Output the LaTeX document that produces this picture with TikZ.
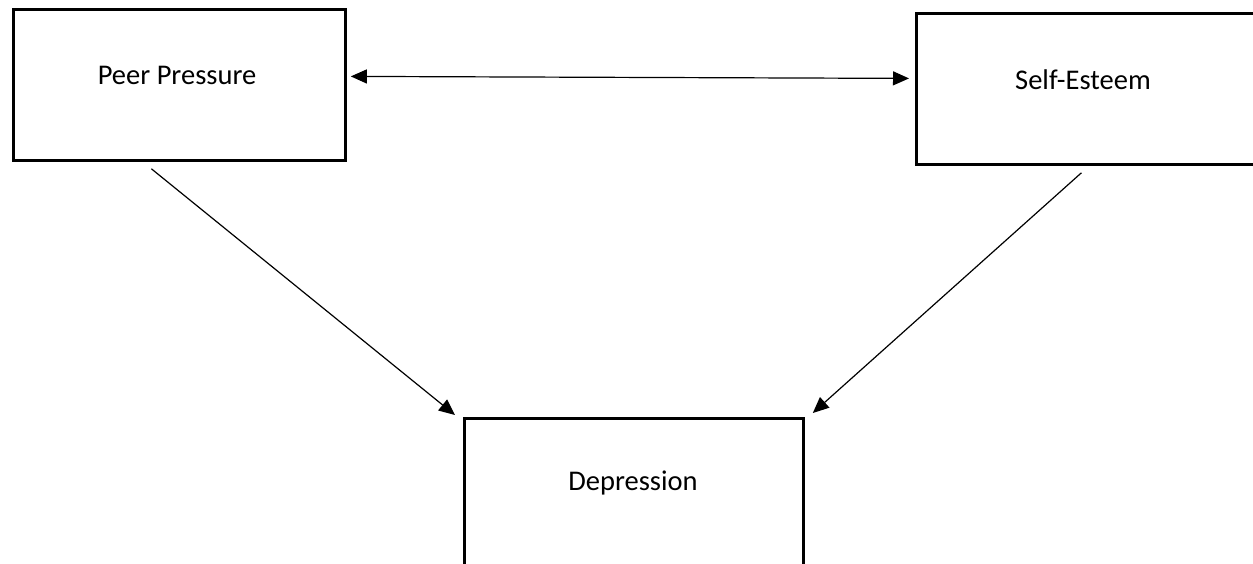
\documentclass[tikz,border=0pt]{standalone}
\usepackage{fontspec}
\setmainfont{Carlito}
\usetikzlibrary{arrows.meta}
\begin{document}
\begin{tikzpicture}[x=1pt,y=-1pt,
  box/.style={draw=black,line width=2.8pt,minimum width=#1,minimum height=151pt,inner sep=0pt,anchor=north west},
  lbl/.style={font=\fontsize{28.5}{32}\selectfont,inner sep=0pt},
  conn/.style={line width=1.2pt,-{Triangle[length=16pt,width=14pt]}},
  biconn/.style={line width=1.2pt,{Triangle[length=16pt,width=14pt]}-{Triangle[length=16pt,width=14pt]}}]
\useasboundingbox (0,0) rectangle (1253,563);
\node[box=332pt] (pp) at (12,8) {};
\node[box=340pt] (se) at (915,12) {};
\node[box=339pt] (dep) at (463,417) {};
\node[lbl] (ppt) at (177,75) {Peer Pressure};
\node[lbl] (set) at (1083,80) {Self-Esteem};
\node[lbl] (dept) at (633,483) {Depression};
\draw[biconn] ([xshift=4pt,yshift=8.5pt]pp.east) -- ([xshift=-6pt,yshift=10.5pt]se.west);
\draw[conn] ([xshift=-28pt,yshift=-7pt]pp.south) -- ([xshift=-8pt,yshift=2pt]dep.north west);
\draw[conn] ([xshift=-5pt,yshift=-7pt]se.south) -- ([xshift=8pt,yshift=4pt]dep.north east);
\end{tikzpicture}
\end{document}
